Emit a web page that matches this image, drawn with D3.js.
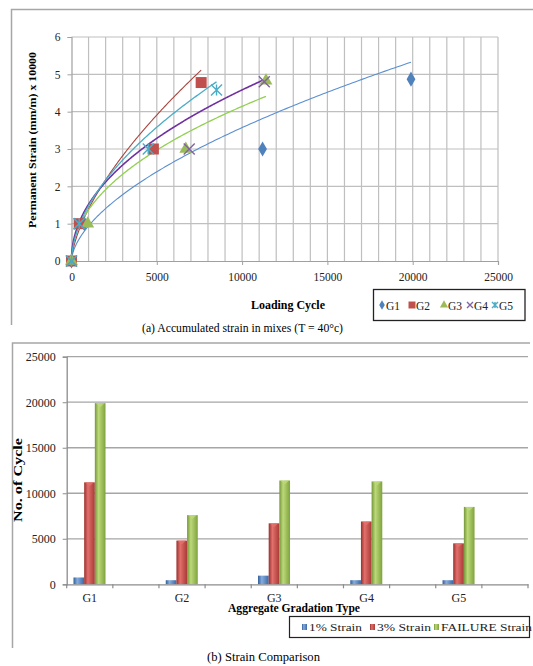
<!DOCTYPE html>
<html><head><meta charset="utf-8">
<script src="https://cdn.jsdelivr.net/npm/d3@7"></script>
<style>
html,body{margin:0;padding:0;background:#fff;}
svg{display:block;font-family:"Liberation Serif","Times New Roman",serif;}
</style></head>
<body>
<svg id="c" width="533" height="666"></svg>
<script>
// ---------- DATA ----------
const groups = ["G1", "G2", "G3", "G4", "G5"];
const strainLevels = ["1% Strain", "3% Strain", "FAILURE Strain"];
// cycles to reach each strain level
const cycles1 = [750, 450, 950, 450, 450];
const cycles3 = [11200, 4800, 6700, 6900, 4500];
const cyclesFail = [19900, 7600, 11400, 11300, 8500];
// permanent strain (x10000) at each level
const strain1 = [1, 1, 1, 1, 1];
const strain3 = [3, 3, 3, 3, 3];
const strainFail = [4.87, 4.78, 4.83, 4.80, 4.58];
// power trendline y = a * x^b
const trendA = [0.0171, 0.01678, 0.0498, 0.0551, 0.0331];
const trendB = [0.58, 0.64, 0.48, 0.48, 0.55];
const topXTicks = [0, 5000, 10000, 15000, 20000, 25000];
const topYTicks = [0, 1, 2, 3, 4, 5, 6];
const botYTicks = [0, 5000, 10000, 15000, 20000, 25000];

// ---------- STYLE ----------
const markerColors = ["#4F81BD", "#C0504D", "#9BBB59", "#8064A2", "#4BACC6"];
const lineColors = ["#5B8FD0", "#A8463F", "#92D050", "#7030A0", "#4BACC6"];
const lineWidths = [1.1, 1.1, 1.3, 1.6, 1.3];
const barColors = [["#2F5E98", "#86ACDD", "#3A6AA8"], ["#9A2F2C", "#E2706C", "#A93A36"], ["#74963A", "#BCD978", "#7FA23E"]];
const serif = '"Liberation Serif","Times New Roman",serif';

const svg = d3.select("#c");
const defs = svg.append("defs");
barColors.forEach((c, i) => {
  const g = defs.append("linearGradient").attr("id", "bg" + i).attr("x1", "0").attr("x2", "1").attr("y1", "0").attr("y2", "0");
  g.append("stop").attr("offset", "0").attr("stop-color", c[0]);
  g.append("stop").attr("offset", "0.35").attr("stop-color", c[1]);
  g.append("stop").attr("offset", "1").attr("stop-color", c[2]);
});

// ---------- TOP CHART ----------
const frame = "#A6A6A6";
svg.append("path").attr("d", "M11.5,325 V9.5 H533").attr("fill", "none").attr("stroke", frame).attr("stroke-width", 1.5);

const xT = d3.scaleLinear().domain([0, 25000]).range([71.5, 498]);
const yT = d3.scaleLinear().domain([0, 6]).range([261, 37]);
const topG = svg.append("g");
const grid = "#BFBFBF";
// vertical gridlines every 1000
topG.append("g").selectAll("line").data(d3.range(1000, 25001, 1000)).join("line")
  .attr("x1", d => xT(d)).attr("x2", d => xT(d)).attr("y1", yT(6)).attr("y2", yT(0))
  .attr("stroke", grid).attr("stroke-width", 1.2);
topG.append("g").selectAll("line").data(topYTicks.filter(d => d > 0)).join("line")
  .attr("x1", xT(0)).attr("x2", xT(25000)).attr("y1", d => yT(d)).attr("y2", d => yT(d))
  .attr("stroke", grid).attr("stroke-width", 1.2);
// axes
const axX = topG.append("g").attr("transform", `translate(0,${yT(0)})`)
  .call(d3.axisBottom(xT).tickValues(topXTicks).tickSize(4).tickPadding(8).tickFormat(d3.format("d")));
const axY = topG.append("g").attr("transform", `translate(${xT(0)},0)`)
  .call(d3.axisLeft(yT).tickValues(topYTicks).tickSize(4).tickPadding(7).tickFormat(d3.format("d")));
[axX, axY].forEach(a => {
  a.select(".domain").attr("stroke", "#A0A0A0").attr("stroke-width", 1.2);
  a.selectAll(".tick line").attr("stroke", "#A0A0A0");
  a.selectAll("text").attr("font-family", serif).attr("font-size", 11.5).attr("fill", "#222");
});

// trendlines
const lineGen = d3.line().x(d => xT(d[0])).y(d => yT(d[1])).curve(d3.curveLinear);
groups.forEach((g, i) => {
  const xs = d3.range(0, 201).map(k => 5 + (cyclesFail[i] - 5) * Math.pow(k / 200, 2));
  const pts = xs.map(x => [x, trendA[i] * Math.pow(x, trendB[i])]);
  topG.append("path").attr("d", lineGen(pts)).attr("fill", "none")
    .attr("stroke", lineColors[i]).attr("stroke-width", lineWidths[i]);
});

// markers
function markerPath(i, s) {
  if (i === 0) return d3.symbol(d3.symbolDiamond, s * s * 0.55)();
  if (i === 1) return d3.symbol(d3.symbolSquare, s * s)();
  if (i === 2) return d3.symbol(d3.symbolTriangle, s * s * 0.6)();
  const h = s / 2;
  let p = `M${-h},${-h}L${h},${h}M${-h},${h}L${h},${-h}`;
  if (i === 4) p += `M0,${-h}L0,${h}`;
  return p;
}
function drawMarker(sel, i, x, y, s) {
  const filled = i < 3;
  sel.append("path").attr("d", markerPath(i, s)).attr("transform", `translate(${x},${y})`)
    .attr("fill", filled ? markerColors[i] : "none")
    .attr("stroke", filled ? "none" : markerColors[i]).attr("stroke-width", 1.4);
}
groups.forEach((g, i) => {
  const pts = [[0, 0], [cycles1[i], strain1[i]], [cycles3[i], strain3[i]], [cyclesFail[i], strainFail[i]]];
  pts.forEach(p => drawMarker(topG, i, xT(p[0]), yT(p[1]), 11));
});

// titles
topG.append("text").attr("x", 288).attr("y", 309).attr("text-anchor", "middle")
  .attr("font-family", serif).attr("font-weight", "bold").attr("font-size", 11.5)
  .attr("textLength", 74).attr("lengthAdjust", "spacingAndGlyphs").text("Loading Cycle");
topG.append("text").attr("transform", "translate(36,140) rotate(-90)").attr("text-anchor", "middle")
  .attr("font-family", serif).attr("font-weight", "bold").attr("font-size", 10.5)
  .attr("textLength", 176).attr("lengthAdjust", "spacingAndGlyphs").text("Permanent Strain (mm/m)  x 10000");
topG.append("text").attr("x", 142).attr("y", 332).attr("font-family", serif).attr("font-size", 13)
  .attr("textLength", 201).attr("lengthAdjust", "spacingAndGlyphs").text("(a)  Accumulated strain in mixes (T = 40°c)");

// legend top
topG.append("rect").attr("x", 373.5).attr("y", 289.5).attr("width", 151.5).attr("height", 31)
  .attr("fill", "#fff").attr("stroke", "#222").attr("stroke-width", 1.3);
const legX = [382, 412, 444, 470, 495];
groups.forEach((g, i) => {
  drawMarker(topG, i, legX[i], 305, i < 3 ? 7 : 6);
  topG.append("text").attr("x", legX[i] + 4).attr("y", 309.5).attr("font-family", serif)
    .attr("font-size", 11.5).attr("fill", "#222").text(g);
});

// ---------- BOTTOM CHART ----------
svg.append("path").attr("d", "M12.5,648 V343 H530").attr("fill", "none").attr("stroke", frame).attr("stroke-width", 1.5);
const bot = svg.append("g");
const slots = [];
groups.forEach((g, i) => { slots.push(g); slots.push("_gap" + i); });
const xB = d3.scaleBand().domain(slots).range([66.7, 528]);
const yB = d3.scaleLinear().domain([0, 25000]).range([584.3, 356.7]);
const xInner = d3.scaleBand().domain(strainLevels).range([6.8, 38.8]).padding(0);

bot.append("g").selectAll("line").data(botYTicks.filter(d => d > 0)).join("line")
  .attr("x1", 66.7).attr("x2", 528).attr("y1", d => yB(d)).attr("y2", d => yB(d))
  .attr("stroke", "#A6A6A6").attr("stroke-width", 1.3);

const barData = [];
groups.forEach((g, i) => {
  [cycles1[i], cycles3[i], cyclesFail[i]].forEach((v, j) => barData.push({ g, j, v }));
});
bot.append("g").selectAll("rect").data(barData).join("rect")
  .attr("x", d => xB(d.g) + xInner(strainLevels[d.j]))
  .attr("width", xInner.bandwidth())
  .attr("y", d => yB(d.v)).attr("height", d => yB(0) - yB(d.v))
  .attr("fill", d => `url(#bg${d.j})`);
// little top caps
bot.append("g").selectAll("path").data(barData.filter(d => d.v > 2000)).join("path")
  .attr("d", d => {
    const x0 = xB(d.g) + xInner(strainLevels[d.j]), w = xInner.bandwidth(), y0 = yB(d.v);
    return `M${x0 + 1},${y0}L${x0 + w - 1},${y0}L${x0 + w / 2},${y0 + 4}Z`;
  })
  .attr("fill", d => barColors[d.j][1]).attr("opacity", 0.8);

const axBX = bot.append("g").attr("transform", `translate(0,${yB(0)})`)
  .call(d3.axisBottom(xB).tickSize(0).tickFormat(d => d.startsWith("_") ? "" : d).tickPadding(9));
axBX.select(".domain").attr("stroke", "#8C8C8C").attr("stroke-width", 1.3);
axBX.selectAll("text").attr("font-family", serif).attr("font-size", 12).attr("fill", "#222");
// tick marks at band boundaries
bot.append("g").selectAll("line").data(slots.map(s => xB(s)).concat([528])).join("line")
  .attr("x1", d => d).attr("x2", d => d).attr("y1", yB(0)).attr("y2", yB(0) + 4)
  .attr("stroke", "#8C8C8C").attr("stroke-width", 1.2);
const axBY = bot.append("g").attr("transform", "translate(66.7,0)")
  .call(d3.axisLeft(yB).tickValues(botYTicks).tickSize(4).tickPadding(7).tickFormat(d3.format("d")));
axBY.select(".domain").attr("stroke", "#8C8C8C").attr("stroke-width", 1.3);
axBY.selectAll(".tick line").attr("stroke", "#8C8C8C");
axBY.selectAll("text").attr("font-family", serif).attr("font-size", 12).attr("fill", "#222");

bot.append("text").attr("x", 294).attr("y", 612).attr("text-anchor", "middle")
  .attr("font-family", serif).attr("font-weight", "bold").attr("font-size", 11.5)
  .attr("textLength", 132).attr("lengthAdjust", "spacingAndGlyphs").text("Aggregate Gradation Type");
bot.append("text").attr("transform", "translate(22,480) rotate(-90)").attr("text-anchor", "middle")
  .attr("font-family", serif).attr("font-weight", "bold").attr("font-size", 11.5)
  .attr("textLength", 84).attr("lengthAdjust", "spacingAndGlyphs").text("No. of Cycle");
bot.append("text").attr("x", 207).attr("y", 661).attr("font-family", serif).attr("font-size", 13)
  .attr("textLength", 113).attr("lengthAdjust", "spacingAndGlyphs").text("(b)  Strain Comparison");

// legend bottom
bot.append("rect").attr("x", 289.5).attr("y", 616.5).attr("width", 240).attr("height", 21)
  .attr("fill", "#fff").attr("stroke", "#222").attr("stroke-width", 1.2);
const legBX = [302, 370, 434];
const legBW = [53, 54, 91];
strainLevels.forEach((s, j) => {
  bot.append("rect").attr("x", legBX[j]).attr("y", 624).attr("width", 5).attr("height", 6)
    .attr("fill", `url(#bg${j})`);
  bot.append("text").attr("x", legBX[j] + 7).attr("y", 631).attr("font-family", serif)
    .attr("font-size", 11).attr("fill", "#222")
    .attr("textLength", legBW[j]).attr("lengthAdjust", "spacingAndGlyphs").text(s);
});
</script>
</body></html>
